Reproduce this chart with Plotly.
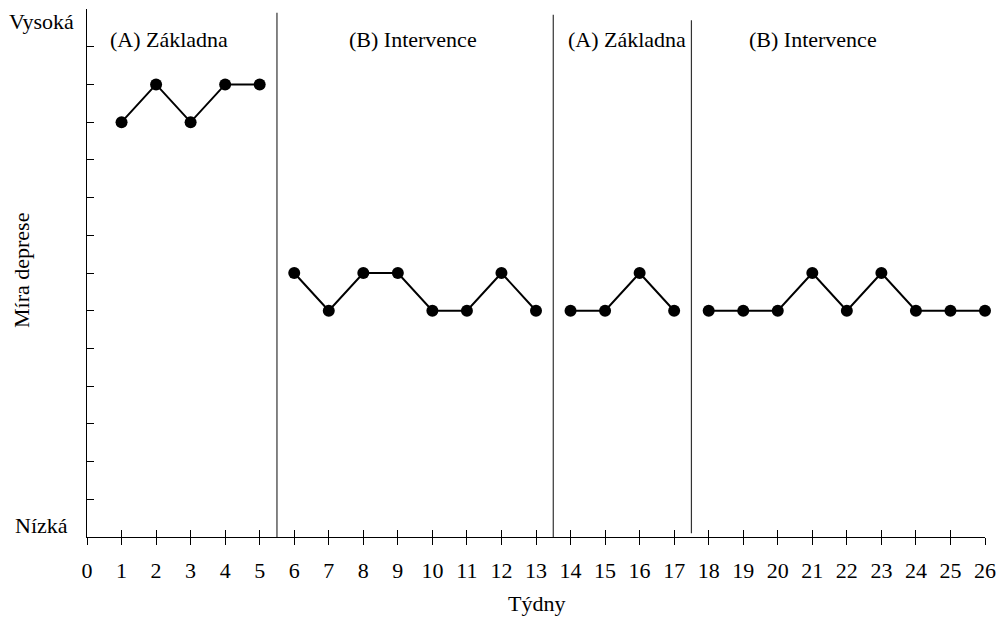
import plotly.graph_objects as go

weeks_a1 = [1, 2, 3, 4, 5]
vals_a1 = [11, 12, 11, 12, 12]
weeks_b1 = [6, 7, 8, 9, 10, 11, 12, 13]
vals_b1 = [7, 6, 7, 7, 6, 6, 7, 6]
weeks_a2 = [14, 15, 16, 17]
vals_a2 = [6, 6, 7, 6]
weeks_b2 = [18, 19, 20, 21, 22, 23, 24, 25, 26]
vals_b2 = [6, 6, 6, 7, 6, 7, 6, 6, 6]

phase_bounds = [5.5, 13.5, 17.5]
phase_tops = [13.9, 13.85, 13.7]
phase_bottoms = [0, 0, 0.1]
phase_labels = ["(A) Základna", "(B) Intervence", "(A) Základna", "(B) Intervence"]
phase_label_x = [2.37, 9.45, 15.63, 21.03]
x_ticks = list(range(0, 27))

FONT = "Liberation Serif, Times New Roman, serif"
FS = 22

fig = go.Figure()
for xs, ys in [(weeks_a1, vals_a1), (weeks_b1, vals_b1), (weeks_a2, vals_a2), (weeks_b2, vals_b2)]:
    fig.add_trace(go.Scatter(x=xs, y=ys, mode="lines+markers",
                             line=dict(color="black", width=2),
                             marker=dict(color="black", size=12),
                             cliponaxis=False, showlegend=False))

# dummy trace on overlaid axis for inside ticks (ticks crossing the x axis)
fig.add_trace(go.Scatter(x=[0, 26], y=[0, 0], xaxis="x2", mode="markers",
                         marker=dict(opacity=0), showlegend=False, hoverinfo="skip"))

for b, t, b0 in zip(phase_bounds, phase_tops, phase_bottoms):
    fig.add_shape(type="line", x0=b, x1=b, y0=b0, y1=t, xref="x", yref="y",
                  line=dict(color="#333", width=1.2))

for lbl, lx in zip(phase_labels, phase_label_x):
    fig.add_annotation(x=lx, y=13.2, text=lbl, showarrow=False, xref="x", yref="y",
                       font=dict(family=FONT, size=FS, color="black"))

fig.add_annotation(x=0, y=13.66, xref="paper", yref="y", text="Vysoká", showarrow=False,
                   xanchor="right", xshift=-11, font=dict(family=FONT, size=FS, color="black"))
fig.add_annotation(x=0, y=0.3, xref="paper", yref="y", text="Nízká", showarrow=False,
                   xanchor="right", xshift=-17, font=dict(family=FONT, size=FS, color="black"))
fig.add_annotation(x=0, y=0.5, xref="paper", yref="paper", text="Míra deprese", showarrow=False,
                   textangle=-90, xanchor="center", yanchor="middle", xshift=-66, yshift=2,
                   font=dict(family=FONT, size=FS, color="black"))
fig.add_annotation(x=0.5, y=0, xref="paper", yref="paper", text="Týdny", showarrow=False,
                   xanchor="center", yanchor="middle", yshift=-66,
                   font=dict(family=FONT, size=FS, color="black"))

fig.update_layout(
    width=1001, height=619,
    margin=dict(l=87, r=16, t=9, b=82, autoexpand=False),
    paper_bgcolor="white", plot_bgcolor="white",
    font=dict(family=FONT, size=FS, color="black"),
    xaxis=dict(range=[0, 26], tickvals=x_ticks, ticks="outside", ticklen=7,
               tickcolor="black", showline=True, linecolor="black", linewidth=1.2,
               showgrid=False, zeroline=False, automargin=False, ticklabelstandoff=6,
               tickfont=dict(family=FONT, size=FS)),
    xaxis2=dict(range=[0, 26], overlaying="x", side="bottom", anchor="y",
                tickvals=x_ticks, ticks="inside", ticklen=7, tickcolor="black",
                showticklabels=False, showgrid=False, zeroline=False, showline=False),
    yaxis=dict(range=[0, 14], dtick=1, tick0=0, ticks="inside", ticklen=7,
               tickcolor="black", showline=True, linecolor="black", linewidth=1.2,
               showgrid=False, zeroline=False, showticklabels=False, automargin=False),
)

fig.write_html("out.html", config={"displayModeBar": False},
               post_script="document.body.style.margin='0';document.body.style.overflow='hidden';")
